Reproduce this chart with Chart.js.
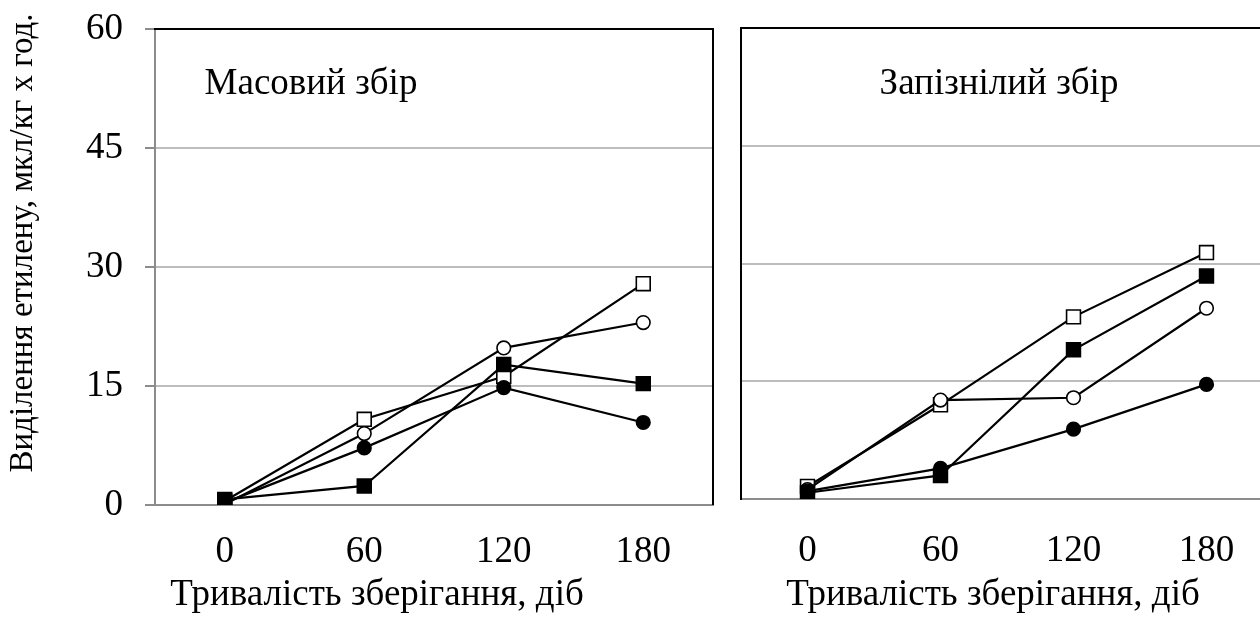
<!DOCTYPE html>
<html>
<head>
<meta charset="utf-8">
<script src="https://cdn.jsdelivr.net/npm/chart.js@4/dist/chart.umd.min.js"></script>
<style>
  html, body { margin: 0; padding: 0; background: #fff; overflow: hidden; }
  #wrap { position: relative; width: 1260px; height: 617px; overflow: hidden; }
  canvas { position: absolute; top: 0; }
</style>
</head>
<body>
<div id="wrap">
  <canvas id="masovyi" style="left:0" width="720" height="617"></canvas>
  <canvas id="pizniy" style="left:720px" width="560" height="617"></canvas>
</div>
<script>
// Тривалість зберігання, діб
const dni = ['0', '60', '120', '180'];
const yTicks = [0, 15, 30, 45, 60];

// Масовий збір
const masovyiBilyiKvadrat = [0.5, 10.8, 16.2, 27.9];
const masovyiBilyiKolo = [0.1, 9.0, 19.8, 23.0];
const masovyiChornyiKvadrat = [0.7, 2.4, 17.7, 15.3];
const masovyiChornyiKolo = [0.3, 7.2, 14.8, 10.4];

// Запізнілий збір
const pizniBilyiKvadrat = [1.6, 12.0, 23.2, 31.4];
const pizniChornyiKvadrat = [0.8, 3.0, 19.0, 28.4];
const pizniBilyiKolo = [1.2, 12.6, 12.9, 24.3];
const pizniChornyiKolo = [1.0, 3.9, 8.9, 14.6];

const SHRYFT = "'Liberation Serif', 'Times New Roman', serif";
Chart.defaults.font.family = SHRYFT;
Chart.defaults.font.size = 37;
Chart.defaults.color = '#000';

function seriya(values, styl, zalyvka) {
    return {
        data: values,
        borderColor: '#000',
        borderWidth: 2.2,
        pointStyle: styl,
        pointRadius: styl === 'rect' ? 9.8 : 6.8,
        pointBackgroundColor: zalyvka,
        pointBorderColor: '#000',
        pointBorderWidth: 1.6,
        tension: 0
    };
}

// рамка, підписи панелей та осей
const ramka = {
    id: 'ramka',
    afterDraw(chart, args, opts) {
        const { ctx, chartArea: a } = chart;
        ctx.save();
        ctx.strokeStyle = '#000';
        ctx.lineWidth = 2;
        ctx.beginPath();
        ctx.moveTo(a.left - 1, a.top);
        ctx.lineTo(a.right + 1, a.top);
        if (opts.right) {
            ctx.moveTo(a.right, a.top);
            ctx.lineTo(a.right, a.bottom);
        }
        ctx.stroke();
        ctx.fillStyle = '#000';
        ctx.font = '37px ' + SHRYFT;
        ctx.textAlign = 'center';
        ctx.textBaseline = 'middle';
        ctx.fillText(opts.title, opts.titleX, opts.titleY);
        ctx.fillText('Тривалість зберігання, діб', opts.xTitleX, opts.xTitleY);
        if (opts.yTitle) {
            ctx.font = opts.yTitleSize + 'px ' + SHRYFT;
            ctx.translate(opts.yTitleX, opts.yTitleY);
            ctx.rotate(-Math.PI / 2);
            ctx.fillText(opts.yTitle, 0, 0);
        }
        ctx.restore();
    }
};

function bezVidstupiv(s) {
    s.paddingTop = 0;
    s.paddingBottom = 0;
    s.paddingLeft = 0;
    s.paddingRight = 0;
}

function pobuduvaty(id, nabory, cfg) {
    return new Chart(document.getElementById(id), {
        type: 'line',
        data: { labels: dni, datasets: nabory },
        plugins: [ramka],
        options: {
            responsive: false,
            animation: false,
            layout: { padding: cfg.padding, autoPadding: false },
            plugins: {
                legend: { display: false },
                tooltip: { enabled: false },
                ramka: cfg.ramka
            },
            scales: {
                x: {
                    type: 'category',
                    offset: true,
                    afterFit: s => { s.height = cfg.xHeight; bezVidstupiv(s); },
                    grid: { display: false },
                    border: { color: '#8c8c8c', width: 2 },
                    ticks: { padding: cfg.xPad, font: { size: 37 } }
                },
                y: {
                    min: 0,
                    max: 60,
                    afterBuildTicks: s => { s.ticks = yTicks.map(v => ({ value: v })); },
                    afterFit: s => { s.width = cfg.yWidth; bezVidstupiv(s); },
                    grid: {
                        color: c => c.tick && c.tick.value === 60 ? 'rgba(0,0,0,0)' : '#bdbdbd',
                        tickColor: '#8c8c8c',
                        lineWidth: 2,
                        drawTicks: cfg.yTicks,
                        tickLength: 10
                    },
                    border: { color: cfg.yBorder, width: 2 },
                    ticks: { display: cfg.yTicks, padding: 22, font: { size: 37 } }
                }
            }
        }
    });
}

// зверху — чорне коло, знизу — білий квадрат
pobuduvaty('masovyi', [
    seriya(masovyiChornyiKolo, 'circle', '#000'),
    seriya(masovyiBilyiKolo, 'circle', '#fff'),
    seriya(masovyiChornyiKvadrat, 'rect', '#000'),
    seriya(masovyiBilyiKvadrat, 'rect', '#fff')
], {
    padding: { top: 29, right: 7, left: 0, bottom: 0 },
    xHeight: 112,
    xPad: 17,
    yWidth: 155,
    yTicks: true,
    yBorder: '#8c8c8c',
    ramka: {
        right: true,
        title: 'Масовий збір', titleX: 311, titleY: 84,
        xTitleX: 377, xTitleY: 595,
        yTitle: 'Виділення етилену, мкл/кг х год.', yTitleSize: 33, yTitleX: 23, yTitleY: 243
    }
});

pobuduvaty('pizniy', [
    seriya(pizniChornyiKolo, 'circle', '#000'),
    seriya(pizniBilyiKolo, 'circle', '#fff'),
    seriya(pizniChornyiKvadrat, 'rect', '#000'),
    seriya(pizniBilyiKvadrat, 'rect', '#fff')
], {
    padding: { top: 28, right: 7, left: 0, bottom: 0 },
    xHeight: 118,
    xPad: 22,
    yWidth: 21,
    yTicks: false,
    yBorder: '#000',
    ramka: {
        right: false,
        title: 'Запізнілий збір', titleX: 279, titleY: 84,
        xTitleX: 273, xTitleY: 595
    }
});
</script>
</body>
</html>
